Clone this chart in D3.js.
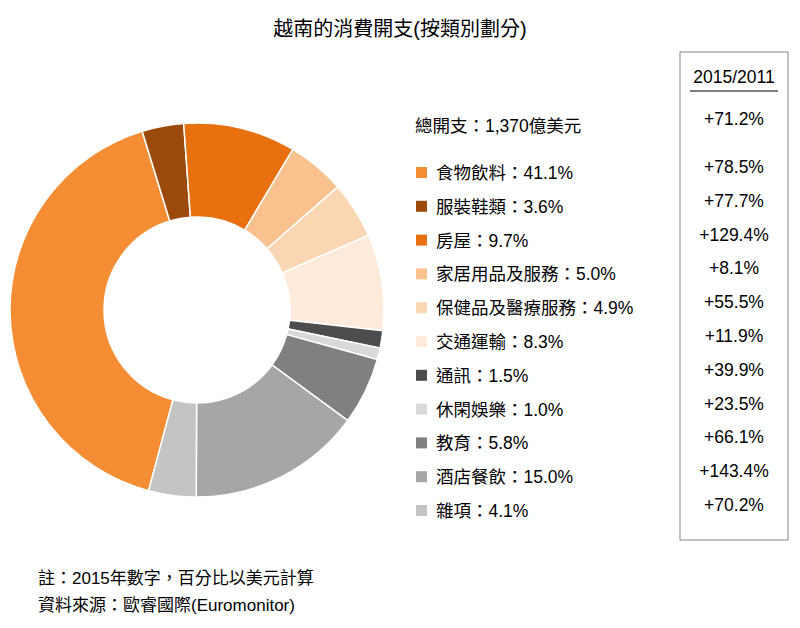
<!DOCTYPE html><html><head><meta charset="utf-8"><script src="https://cdn.jsdelivr.net/npm/d3@7"></script>
<style>body{margin:0;background:#fff}text{font-family:"Liberation Sans","Noto Sans CJK TC",sans-serif}</style></head><body>
<svg id="c" width="800" height="628"></svg>
<script>
const categories=["食物飲料","服裝鞋類","房屋","家居用品及服務","保健品及醫療服務","交通運輸","通訊","休閑娛樂","教育","酒店餐飲","雜項"];
const shares=[41.1,3.6,9.7,5.0,4.9,8.3,1.5,1.0,5.8,15.0,4.1];
const growth=["+78.5%","+77.7%","+129.4%","+8.1%","+55.5%","+11.9%","+39.9%","+23.5%","+66.1%","+143.4%","+70.2%"];
const colors=["#F58D35","#9B4A0B","#E8700F","#F9C18E","#FBD6B2","#FDEADB","#4D4D4D","#D9D9D9","#808080","#A6A6A6","#C4C4C4"];
const totalLabel="總開支：1,370億美元", totalGrowth="+71.2%";
const svg=d3.select("#c");
svg.append("text").attr("x",400).attr("y",36).attr("text-anchor","middle").attr("font-size",20).text("越南的消費開支(按類別劃分)");
const start=195*Math.PI/180;
const pie=d3.pie().sort(null).startAngle(start).endAngle(start+2*Math.PI);
const arc=d3.arc().innerRadius(93).outerRadius(187);
svg.append("g").attr("transform","translate(197,310)").selectAll("path").data(pie(shares)).join("path")
 .attr("d",arc).attr("fill",(d,i)=>colors[i]).attr("stroke","#fff").attr("stroke-width",1.5);
svg.append("rect").attr("x",680).attr("y",52).attr("width",108).attr("height",488).attr("fill","none").attr("stroke","#999").attr("stroke-width",1.2);
svg.append("text").attr("x",734).attr("y",83).attr("text-anchor","middle").attr("font-size",17.5).text("2015/2011");
svg.append("line").attr("x1",690).attr("x2",778).attr("y1",91).attr("y2",91).attr("stroke","#000");
svg.append("text").attr("x",415).attr("y",132).attr("font-size",17.5).text(totalLabel);
svg.append("text").attr("x",734).attr("y",125).attr("text-anchor","middle").attr("font-size",17.5).text(totalGrowth);
const y=d3.scalePoint().domain(categories).range([173,511]);
const g=svg.append("g");
categories.forEach((c,i)=>{
 g.append("rect").attr("x",416).attr("y",y(c)-6).attr("width",11).attr("height",11).attr("fill",colors[i]);
 g.append("text").attr("x",436).attr("y",y(c)+6).attr("font-size",17.5).text(c+"："+shares[i].toFixed(1)+"%");
 g.append("text").attr("x",734).attr("y",y(c)).attr("text-anchor","middle").attr("font-size",17.5).text(growth[i]);
});
svg.append("text").attr("x",38).attr("y",584).attr("font-size",17).text("註：2015年數字，百分比以美元計算");
svg.append("text").attr("x",38).attr("y",611).attr("font-size",17).text("資料來源：歐睿國際(Euromonitor)");
</script></body></html>
